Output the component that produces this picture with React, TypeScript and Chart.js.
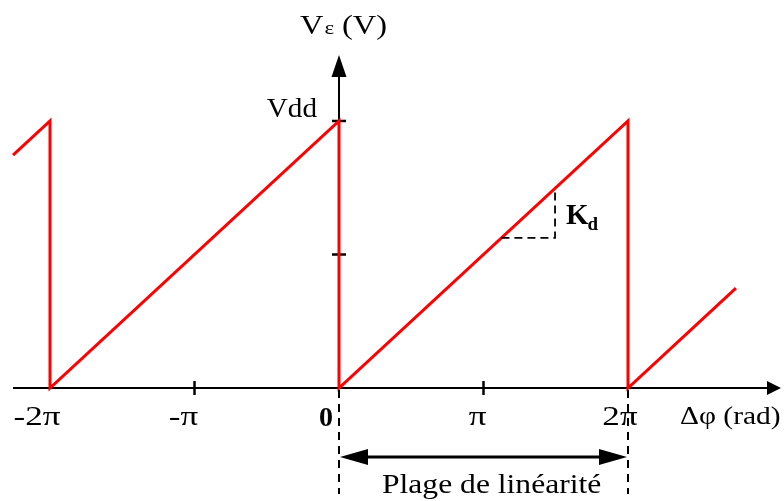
import React, { useEffect, useRef } from "react";
import { Chart, registerables } from "chart.js";

Chart.register(...registerables);

// Δφ in units of π
const phaseValues = [-2.256, -2, -2, 0, 0, 2, 2, 2.747];
// Vε in units of Vdd
const voltageValues = [0.872, 1, 0, 1, 0, 1, 0, 0.374];

const xTickValues = [-2, -1, 0, 1, 2];
const xTickLabels = ["-2π", "-π", "0", "π", "2π"];
const xTickMarks = [-1, 1];
const yTickValues = [0.5, 1];
const yTickLabels = ["", "Vdd"];

const kdStart = 1.124;
const kdEnd = 1.495;
const rangeStart = 0;
const rangeEnd = 2;

const X_MIN = -2.346;
const X_MAX = 3.0796;
const Y_MIN = -0.423;
const Y_MAX = 1.453;

const SERIF = "'Liberation Serif', 'Times New Roman', serif";

// draw text with a horizontal stretch; align relative to anchor x
function drawText(
  ctx: CanvasRenderingContext2D,
  text: string,
  x: number,
  y: number,
  font: string,
  align: "left" | "center" | "right",
  sx: number
): number {
  ctx.save();
  ctx.font = font;
  ctx.textAlign = "left";
  ctx.textBaseline = "alphabetic";
  const w = ctx.measureText(text).width * sx;
  let left = x;
  if (align === "center") left = x - w / 2;
  else if (align === "right") left = x - w;
  ctx.translate(left, y);
  ctx.scale(sx, 1);
  ctx.fillText(text, 0, 0);
  ctx.restore();
  return w;
}

function arrowHead(ctx: CanvasRenderingContext2D, tx: number, ty: number, dir: string, len: number, half: number) {
  ctx.beginPath();
  ctx.moveTo(tx, ty);
  if (dir === "up") {
    ctx.lineTo(tx - half, ty + len);
    ctx.lineTo(tx + half, ty + len);
  } else if (dir === "right") {
    ctx.lineTo(tx - len, ty - half);
    ctx.lineTo(tx - len, ty + half);
  } else if (dir === "left") {
    ctx.lineTo(tx + len, ty - half);
    ctx.lineTo(tx + len, ty + half);
  }
  ctx.closePath();
  ctx.fill();
}

const axesPlugin = {
  id: "customAxes",
  beforeDatasetsDraw(chart: any) {
    const ctx: CanvasRenderingContext2D = chart.ctx;
    const xs = chart.scales.x;
    const ys = chart.scales.y;
    const x0 = xs.getPixelForValue(0);
    const y0 = ys.getPixelForValue(0);
    ctx.save();
    ctx.strokeStyle = "#000";
    ctx.fillStyle = "#000";
    ctx.lineWidth = 2;
    // x axis
    ctx.beginPath();
    ctx.moveTo(13, y0);
    ctx.lineTo(770, y0);
    ctx.stroke();
    arrowHead(ctx, 781, y0, "right", 14, 7);
    // y axis
    ctx.beginPath();
    ctx.moveTo(x0, y0);
    ctx.lineTo(x0, 70);
    ctx.stroke();
    arrowHead(ctx, x0, 55, "up", 22, 7.5);
    // x tick marks
    ctx.lineWidth = 2.5;
    xTickMarks.forEach((v) => {
      const px = xs.getPixelForValue(v);
      ctx.beginPath();
      ctx.moveTo(px, y0 - 7);
      ctx.lineTo(px, y0 + 7);
      ctx.stroke();
    });
    // y tick marks
    yTickValues.forEach((v) => {
      const py = ys.getPixelForValue(v);
      ctx.beginPath();
      ctx.moveTo(x0 - 7, py);
      ctx.lineTo(x0 + 7, py);
      ctx.stroke();
    });
    ctx.restore();
  },
  afterDatasetsDraw(chart: any) {
    const ctx: CanvasRenderingContext2D = chart.ctx;
    const xs = chart.scales.x;
    const ys = chart.scales.y;
    const x0 = xs.getPixelForValue(0);
    const y0 = ys.getPixelForValue(0);
    ctx.save();
    ctx.fillStyle = "#000";
    ctx.strokeStyle = "#000";

    // x tick labels
    xTickValues.forEach((v, i) => {
      const px = xs.getPixelForValue(v);
      if (v === 0) {
        drawText(ctx, xTickLabels[i], px - 6, y0 + 38, "bold 28px " + SERIF, "right", 1.0);
      } else {
        const shift = v === -2 ? 13 : v === -1 ? 11 : v === 1 ? 6 : 8;
        drawText(ctx, xTickLabels[i], px - shift, y0 + 37, "27px " + SERIF, "center", 1.3);
      }
    });

    // y tick labels
    yTickValues.forEach((v, i) => {
      if (!yTickLabels[i]) return;
      const py = ys.getPixelForValue(v);
      drawText(ctx, yTickLabels[i], x0 - 22, py - 4, "27px " + SERIF, "right", 1.08);
    });

    // x axis title
    drawText(ctx, "Δφ (rad)", 680, y0 + 36, "25px " + SERIF, "left", 1.18);

    // y axis title: Vε (V)
    let wx = 300;
    wx += drawText(ctx, "V", wx, 34, "27px " + SERIF, "left", 1.2);
    wx += 1;
    wx += drawText(ctx, "ε", wx, 34, "19px " + SERIF, "left", 1.2);
    drawText(ctx, " (V)", wx, 34, "27px " + SERIF, "left", 1.2);

    // dashed guides for linear range
    const xa = xs.getPixelForValue(rangeStart);
    const xb = xs.getPixelForValue(rangeEnd);
    ctx.lineWidth = 2;
    ctx.setLineDash([8, 6]);
    [xa, xb].forEach((px) => {
      ctx.beginPath();
      ctx.moveTo(px, y0 + 2);
      ctx.lineTo(px, 494);
      ctx.stroke();
    });

    // Kd triangle
    const kx1 = xs.getPixelForValue(kdStart);
    const kx2 = xs.getPixelForValue(kdEnd);
    const kyLow = ys.getPixelForValue(kdStart / 2);
    const kyHigh = ys.getPixelForValue(kdEnd / 2);
    ctx.lineWidth = 1.8;
    ctx.setLineDash([8, 5]);
    ctx.beginPath();
    ctx.moveTo(kx1, kyLow);
    ctx.lineTo(kx2, kyLow);
    ctx.lineTo(kx2, kyHigh);
    ctx.stroke();
    ctx.setLineDash([]);

    // Kd label
    const kw = drawText(ctx, "K", 566, 224, "bold 29px " + SERIF, "left", 1.0);
    drawText(ctx, "d", 566 + kw - 1, 230, "bold 19px " + SERIF, "left", 1.0);

    // double arrow
    const ay = 457;
    ctx.lineWidth = 3;
    ctx.beginPath();
    ctx.moveTo(xa + 20, ay);
    ctx.lineTo(xb - 20, ay);
    ctx.stroke();
    arrowHead(ctx, xa + 1, ay, "left", 28, 8);
    arrowHead(ctx, xb - 1, ay, "right", 28, 8);

    drawText(ctx, "Plage de linéarité", 382, 493, "27px " + SERIF, "left", 1.17);

    ctx.restore();
  },
};

export default function App() {
  const canvasRef = useRef<HTMLCanvasElement | null>(null);

  useEffect(() => {
    document.body.style.margin = "0";
    const canvas = canvasRef.current;
    if (!canvas) return;
    const data = phaseValues.map((x, i) => ({ x, y: voltageValues[i] }));
    const chart = new Chart(canvas, {
      type: "scatter",
      data: {
        datasets: [
          {
            data,
            showLine: true,
            borderColor: "#ff0000",
            backgroundColor: "#ff0000",
            borderWidth: 3,
            pointRadius: 0,
            tension: 0,
            clip: false as any,
          },
        ],
      },
      options: {
        responsive: false,
        animation: false,
        devicePixelRatio: 1,
        layout: { padding: 0 },
        plugins: { legend: { display: false }, tooltip: { enabled: false } },
        scales: {
          x: { type: "linear", min: X_MIN, max: X_MAX, display: false },
          y: { type: "linear", min: Y_MIN, max: Y_MAX, display: false },
        },
      },
      plugins: [axesPlugin],
    });
    return () => chart.destroy();
  }, []);

  return (
    <canvas
      ref={canvasRef}
      width={784}
      height={501}
      style={{ display: "block", width: 784, height: 501, background: "#fff" }}
    />
  );
}
